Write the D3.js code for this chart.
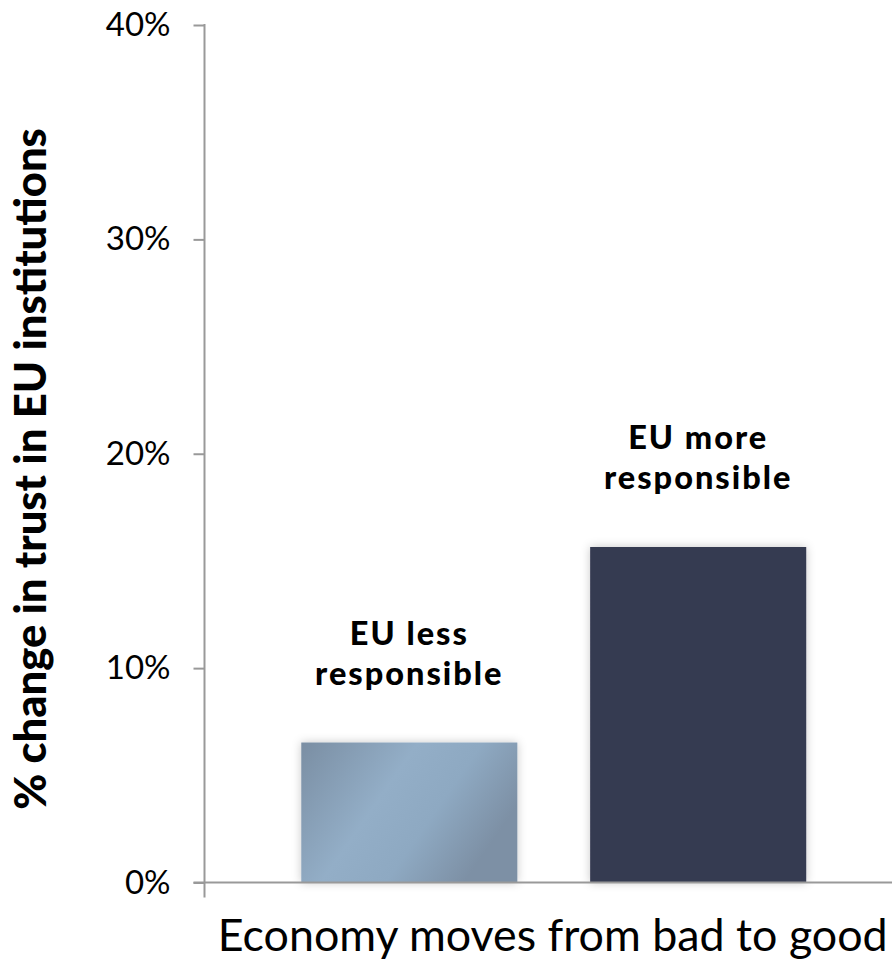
<!DOCTYPE html>
<html>
<head>
<meta charset="utf-8">
<script src="https://cdn.jsdelivr.net/npm/d3@7"></script>
<style>
  html, body { margin: 0; padding: 0; background: #fff; }
  svg { display: block; }
</style>
</head>
<body>
<svg id="chart" width="892" height="967"></svg>
<script>
// ---- data ----
const categories = ["Economy moves from bad to good"];
const seriesNames = ["EU less responsible", "EU more responsible"];
const seriesLabels = [["EU less", "responsible"], ["EU more", "responsible"]];
const seriesValues = [6.53, 15.65];
const yTicks = [0, 10, 20, 30, 40];
const yTickLabels = ["0%", "10%", "20%", "30%", "40%"];
const yTitle = "% change in trust in EU institutions";

// ---- layout ----
const svg = d3.select("#chart");
const axisX = 204.5, yTop = 25, yBottom = 882.5;
const bandRight = 903;

const y = d3.scaleLinear().domain([0, 40]).range([yBottom, yTop]);
const x0 = d3.scaleBand().domain(categories).range([axisX, bandRight]).padding(0);
const x1 = d3.scaleBand().domain(seriesNames).range([0, x0.bandwidth()])
  .paddingInner(0.252).paddingOuter(0.335);

const defs = svg.append("defs");
const g1 = defs.append("linearGradient").attr("id", "grad1")
  .attr("x1", "0%").attr("y1", "0%").attr("x2", "100%").attr("y2", "45%");
g1.append("stop").attr("offset", "0%").attr("stop-color", "#7a8ea3");
g1.append("stop").attr("offset", "45%").attr("stop-color", "#93aec7");
g1.append("stop").attr("offset", "70%").attr("stop-color", "#8ea9c2");
g1.append("stop").attr("offset", "100%").attr("stop-color", "#7d90a5");
const g2 = defs.append("linearGradient").attr("id", "grad2")
  .attr("x1", "0%").attr("y1", "0%").attr("x2", "100%").attr("y2", "0%");
g2.append("stop").attr("offset", "0%").attr("stop-color", "#363b51");
g2.append("stop").attr("offset", "100%").attr("stop-color", "#363b51");
const f = defs.append("filter").attr("id", "shadow")
  .attr("x", "-10%").attr("y", "-10%").attr("width", "120%").attr("height", "120%");
f.append("feDropShadow").attr("dx", 0).attr("dy", 0).attr("stdDeviation", 5)
  .attr("flood-color", "#000").attr("flood-opacity", 0.22);

const fills = ["url(#grad1)", "url(#grad2)"];

// bars
const cat = categories[0];
svg.append("g").selectAll("rect").data(seriesValues).join("rect")
  .attr("x", (d, i) => x0(cat) + x1(seriesNames[i]))
  .attr("y", d => y(d))
  .attr("width", x1.bandwidth())
  .attr("height", d => y(0) - y(d))
  .attr("fill", (d, i) => fills[i])
  .attr("filter", "url(#shadow)");

// y axis
const yAxis = d3.axisLeft(y).tickValues(yTicks)
  .tickFormat((d, i) => yTickLabels[i]).tickSize(11).tickSizeOuter(0).tickPadding(23);
const ya = svg.append("g").attr("transform", `translate(${axisX},0)`).call(yAxis);
ya.select(".domain").remove();
ya.selectAll(".tick line").attr("stroke", "#999").attr("stroke-width", 2);
ya.selectAll(".tick text").attr("font-family", "Lato, 'Open Sans', sans-serif")
  .attr("font-size", 33).attr("fill", "#000");
svg.append("line").attr("x1", axisX).attr("x2", axisX)
  .attr("y1", y(40) - 1).attr("y2", yBottom + 15)
  .attr("stroke", "#999").attr("stroke-width", 2);

// x axis
svg.append("line").attr("x1", axisX - 11).attr("x2", 892)
  .attr("y1", yBottom).attr("y2", yBottom)
  .attr("stroke", "#999").attr("stroke-width", 2);

function fit(sel, target) {
  const w = sel.node().getComputedTextLength();
  const fs = parseFloat(sel.attr("font-size"));
  sel.attr("font-size", fs * target / w);
}

// category label
const cl = svg.append("text").attr("x", x0(cat) + x0.bandwidth() / 2 - 1).attr("y", 951)
  .attr("text-anchor", "middle")
  .attr("font-family", "Lato, 'Open Sans', sans-serif").attr("font-size", 36)
  .attr("fill", "#000").text(cat);
fit(cl, 670);

// bar labels
seriesValues.forEach((v, i) => {
  const cx = x0(cat) + x1(seriesNames[i]) + x1.bandwidth() / 2;
  const mk = (txt, off) => svg.append("text").attr("text-anchor", "middle")
    .attr("font-family", "Lato, 'Open Sans', sans-serif").attr("font-weight", 900)
    .attr("font-size", 32.5).attr("fill", "#000")
    .attr("x", cx).attr("y", y(v) - off).text(txt);
  const t1 = mk(seriesLabels[i][0], 98);
  const t2 = mk(seriesLabels[i][1], 58);
  const w = t2.node().getComputedTextLength();
  const ls = Math.max(0, Math.min(2, (197 - w) / 11));
  t1.attr("letter-spacing", ls);
  t2.attr("letter-spacing", ls);
});

// y title
const yt = svg.append("text")
  .attr("transform", `translate(46,${(128 + 810) / 2}) rotate(-90)`)
  .attr("text-anchor", "middle")
  .attr("font-family", "Lato, 'Open Sans', sans-serif").attr("font-weight", 900)
  .attr("font-size", 30).attr("fill", "#000").text(yTitle);
fit(yt, 682);
</script>
</body>
</html>
